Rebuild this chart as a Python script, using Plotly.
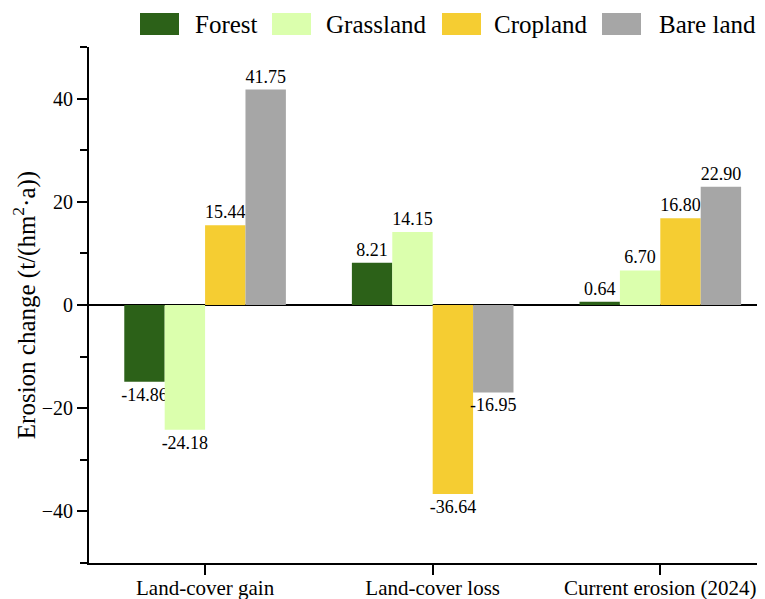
import plotly.graph_objects as go

categories = ["Land-cover gain", "Land-cover loss", "Current erosion (2024)"]
series_names = ["Forest", "Grassland", "Cropland", "Bare land"]
forest = [-14.86, 8.21, 0.64]
grassland = [-24.18, 14.15, 6.70]
cropland = [15.44, -36.64, 16.80]
bare_land = [41.75, -16.95, 22.90]
series_values = [forest, grassland, cropland, bare_land]
colors = ["#2c6118", "#dbffad", "#f5cd32", "#a6a6a6"]
y_ticks = [-40, -20, 0, 20, 40]

FONT = "Liberation Serif"
OFF = 8  # default page body margin
W, H = 765 - OFF, 599 - OFF
L, R, T, B = 89 - OFF, 0, 47 - OFF, 36
pw, ph = W - L - R, H - T - B

fig = go.Figure()
for name, vals, col in zip(series_names, series_values, colors):
    fig.add_trace(go.Bar(
        x=categories, y=vals, name=name,
        marker=dict(color=col, line=dict(width=0)),
        text=[f"{v:.2f}" for v in vals],
        textposition="outside", constraintext="none", cliponaxis=False,
        textfont=dict(family=FONT, size=18, color="black"),
        showlegend=False,
    ))

# manual legend (large swatches like the reference); positions in page pixels
def px_x(p):
    return (p - OFF - L) / pw

def px_y(p):
    return (H - B - (p - OFF)) / ph

legend_items = [(140, 193), (272, 324), (442, 492), (602, 657)]
for (bx, tx), name, col in zip(legend_items, series_names, colors):
    fig.add_shape(type="rect", xref="paper", yref="paper",
                  x0=px_x(bx), x1=px_x(bx + 39), y0=px_y(35), y1=px_y(13),
                  fillcolor=col, line=dict(width=0), layer="above")
    fig.add_annotation(xref="paper", yref="paper", x=px_x(tx), y=px_y(25),
                       text=name, showarrow=False, xanchor="left", yanchor="middle",
                       font=dict(family=FONT, size=25, color="black"))

fig.update_layout(
    width=W, height=H,
    margin=dict(l=L, r=R, t=T, b=B, autoexpand=False),
    paper_bgcolor="white", plot_bgcolor="white",
    barmode="group", bargap=0.29, bargroupgap=0,
    font=dict(family=FONT, color="black"),
    xaxis=dict(
        range=[-0.51, 2.46], showline=True, linecolor="black", linewidth=2,
        ticks="outside", ticklen=10, tickwidth=2, tickcolor="black",
        tickfont=dict(family=FONT, size=21, color="black"),
        ticklabelstandoff=-5,
        showgrid=False, zeroline=False, automargin=False,
    ),
    yaxis=dict(
        range=[-50, 50], tickvals=y_ticks, showline=True, linecolor="black", linewidth=2,
        ticks="outside", ticklen=10, tickwidth=2, tickcolor="black",
        tickfont=dict(family=FONT, size=20, color="black"),
        minor=dict(dtick=10, tick0=0, ticks="outside", ticklen=7, tickwidth=2, tickcolor="black"),
        showgrid=False, zeroline=True, zerolinecolor="black", zerolinewidth=2,
        automargin=False,
        title=dict(text="Erosion change (t/(hm<sup>2</sup>·a))",
                   font=dict(family=FONT, size=25, color="black"), standoff=8),
    ),
)

fig.write_html("out.html")
